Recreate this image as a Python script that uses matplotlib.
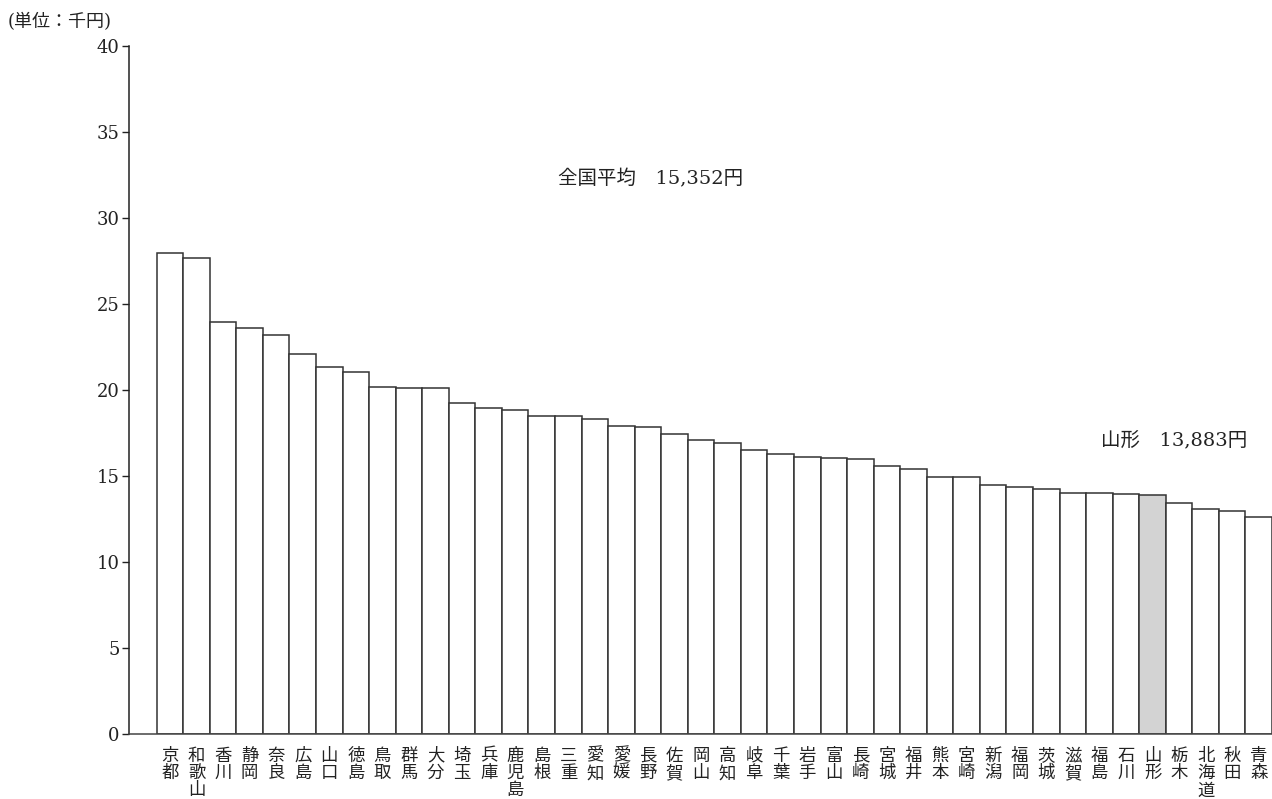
import matplotlib
matplotlib.use('Agg')
import matplotlib.pyplot as plt
import numpy as np

plt.rcParams['font.family'] = ['DejaVu Serif', 'Noto Sans CJK JP']

# 都道府県別（千円）
prefs = ['京都', '和歌山', '香川', '静岡', '奈良', '広島', '山口', '徳島', '鳥取', '群馬',
         '大分', '埼玉', '兵庫', '鹿児島', '島根', '三重', '愛知', '愛媛', '長野', '佐賀',
         '岡山', '高知', '岐阜', '千葉', '岩手', '富山', '長崎', '宮城', '福井', '熊本',
         '宮崎', '新潟', '福岡', '茨城', '滋賀', '福島', '石川', '山形', '栃木', '北海道',
         '秋田', '青森']
values = [27.97, 27.69, 23.95, 23.62, 23.22, 22.09, 21.37, 21.05, 20.21, 20.15,
          20.15, 19.24, 18.95, 18.85, 18.52, 18.47, 18.33, 17.92, 17.85, 17.48,
          17.11, 16.92, 16.51, 16.28, 16.14, 16.05, 16.02, 15.58, 15.41, 14.96,
          14.96, 14.51, 14.40, 14.28, 14.03, 14.01, 13.95, 13.883, 13.43, 13.08,
          13.00, 12.62]
highlight = '山形'
yticks = [0, 5, 10, 15, 20, 25, 30, 35, 40]

fig = plt.figure(figsize=(12.72, 7.99), dpi=100)
ax = fig.add_axes([0.1017, 0.081, 0.8983, 0.8614])

x = np.arange(len(prefs))
colors = ['#d3d3d3' if p == highlight else 'white' for p in prefs]
ax.bar(x, values, width=1.0, color=colors, edgecolor='#333333', linewidth=1.1, zorder=2)

ax.set_xlim(-1.53, len(prefs) - 0.5)
ax.set_ylim(0, 40)
ax.set_yticks(yticks)
ax.set_yticklabels([str(t) for t in yticks], fontsize=13, color='#222222')
ax.tick_params(axis='y', direction='out', length=5, width=1, pad=2, color='#222222')

# vertical labels: one character per line
ax.set_xticks(x)
ax.set_xticklabels(['\n'.join(p) for p in prefs], fontsize=12.5, linespacing=0.95,
                   family=['Noto Sans CJK JP'], color='#222222')
ax.tick_params(axis='x', length=0, pad=9)

for s in ['top', 'right']:
    ax.spines[s].set_visible(False)
ax.spines['left'].set_color('#222222')
ax.spines['bottom'].set_color('#444444')
ax.spines['left'].set_linewidth(1.1)
ax.spines['bottom'].set_linewidth(1.1)

ax.text(14.6, 32.3, '全国平均　15,352円', fontsize=14, ha='left', va='center', color='#222222')
ax.text(35.07, 17.1, '山形　13,883円', fontsize=14, ha='left', va='center', color='#222222')
fig.text(0.006, 0.972, '(単位：千円)', fontsize=13, ha='left', va='center', color='#222222')

fig.savefig('out.png', dpi=100)
